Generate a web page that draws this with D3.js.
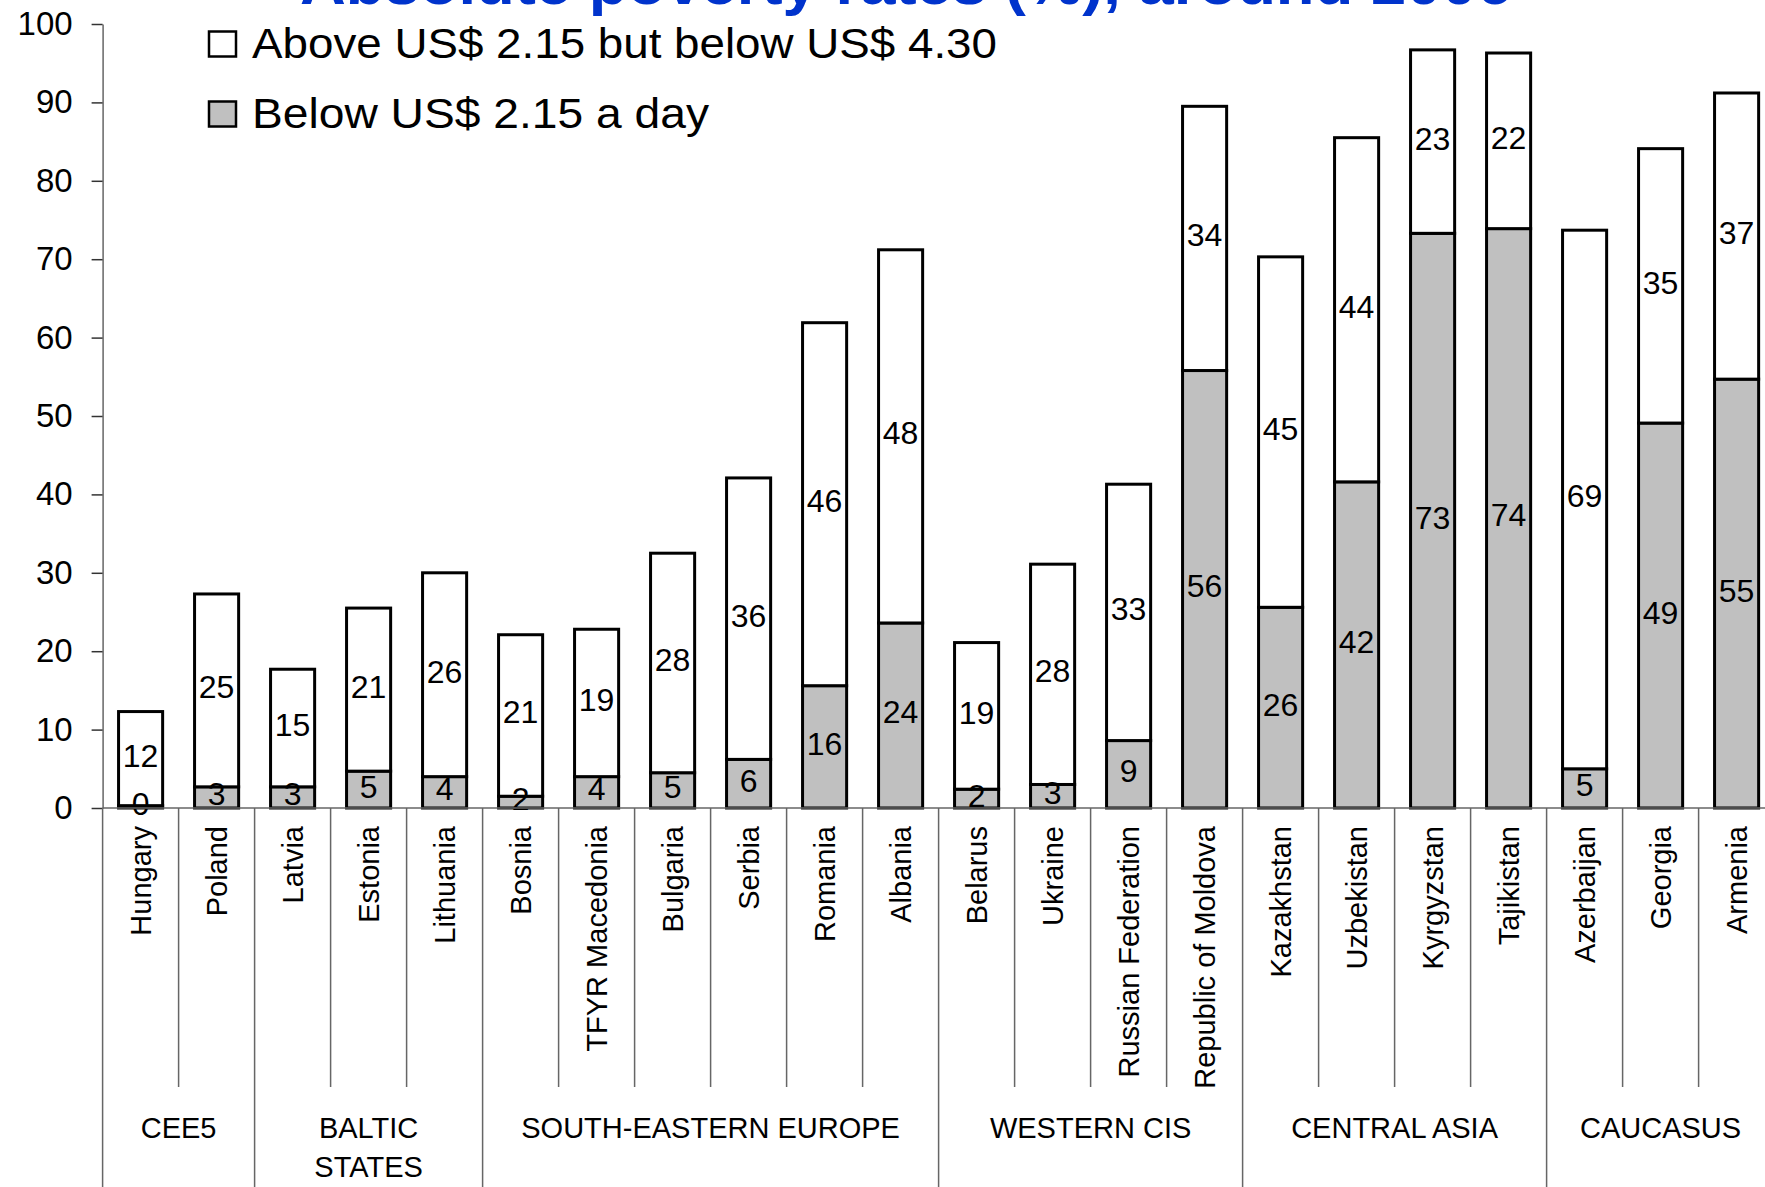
<!DOCTYPE html>
<html>
<head>
<meta charset="utf-8">
<script src="https://cdn.jsdelivr.net/npm/d3@7"></script>
<style>
  html, body { margin: 0; padding: 0; background: #fff; }
  svg { display: block; font-family: "Liberation Sans", Arial, sans-serif; }
</style>
</head>
<body>
<svg id="chart" width="1765" height="1187"></svg>
<script>
// ---- data ----
const countries = ["Hungary","Poland","Latvia","Estonia","Lithuania","Bosnia","TFYR Macedonia","Bulgaria","Serbia","Romania","Albania","Belarus","Ukraine","Russian Federation","Republic of Moldova","Kazakhstan","Uzbekistan","Kyrgyzstan","Tajikistan","Azerbaijan","Georgia","Armenia"];
const below215 = [0.3, 2.7, 2.7, 4.7, 4.0, 1.5, 4.0, 4.5, 6.2, 15.6, 23.6, 2.4, 3.0, 8.6, 55.8, 25.6, 41.6, 73.3, 73.9, 5.0, 49.1, 54.7];
const above215below430 = [12.0, 24.6, 15.0, 20.8, 26.0, 20.6, 18.8, 28.0, 35.9, 46.3, 47.6, 18.7, 28.1, 32.7, 33.7, 44.7, 43.9, 23.4, 22.4, 68.7, 35.0, 36.5];
const groups = ["CEE5","BALTIC STATES","SOUTH-EASTERN EUROPE","WESTERN CIS","CENTRAL ASIA","CAUCASUS"];
const groupSizes = [2, 3, 6, 4, 4, 3];
const groupLabelLines = [["CEE5"],["BALTIC","STATES"],["SOUTH-EASTERN EUROPE"],["WESTERN CIS"],["CENTRAL ASIA"],["CAUCASUS"]];
const yTicks = [0,10,20,30,40,50,60,70,80,90,100];
const seriesNames = ["Above US$ 2.15 but below US$ 4.30", "Below US$ 2.15 a day"];
const titleText = "Absolute poverty rates (%), around 2006";

// ---- layout ----
const svg = d3.select("#chart");
const x0 = 102.6, step = 76;
const x = d3.scaleBand().domain(countries).range([x0, x0 + step * countries.length]).paddingInner(0.42).paddingOuter(0.21);
const y = d3.scaleLinear().domain([0, 100]).range([808, 24]);
const axisColor = "#666";

// title (cut off at top, as in the original)
svg.append("text").attr("x", 300).attr("y", 4)
  .attr("font-size", 60).attr("font-weight", "bold")
  .attr("textLength", 1212).attr("lengthAdjust", "spacingAndGlyphs")
  .attr("fill", "#0033CC").text(titleText);

// y axis
const yAxis = svg.append("g").attr("transform", `translate(${x0},0)`)
  .call(d3.axisLeft(y).tickValues(yTicks).tickSize(11).tickPadding(19).tickSizeOuter(0));
yAxis.select(".domain").attr("stroke", axisColor).attr("stroke-width", 1.5);
yAxis.selectAll(".tick line").attr("stroke", "#333").attr("stroke-width", 1.5);
yAxis.selectAll(".tick text").attr("font-size", 33).attr("fill", "#000")
  .attr("font-family", "Liberation Sans, Arial, sans-serif");

// stacked data
const rows = countries.map((c, i) => ({ c, below: below215[i], above: above215below430[i] }));
const stack = d3.stack().keys(["below", "above"])(rows);
const fills = { below: "#C0C0C0", above: "#FFFFFF" };

const barG = svg.append("g");
stack.forEach(layer => {
  barG.selectAll(null).data(layer).join("rect")
    .attr("x", d => x(d.data.c))
    .attr("width", x.bandwidth())
    .attr("y", d => y(d[1]))
    .attr("height", d => y(d[0]) - y(d[1]))
    .attr("fill", fills[layer.key])
    .attr("stroke", "#000").attr("stroke-width", 3);
});

// value labels
stack.forEach(layer => {
  barG.selectAll(null).data(layer).join("text")
    .attr("x", d => x(d.data.c) + x.bandwidth() / 2)
    .attr("y", d => y((d[0] + d[1]) / 2) - 3)
    .attr("text-anchor", "middle").attr("dominant-baseline", "central")
    .attr("font-size", 32).attr("fill", "#000")
    .text(d => Math.round(d[1] - d[0]));
});

// x axis baseline
svg.append("line").attr("x1", x0).attr("x2", 1765).attr("y1", y(0)).attr("y2", y(0))
  .attr("stroke", axisColor).attr("stroke-width", 1.5);

// category separators
const groupEnds = [];
let acc = 0;
groupSizes.forEach(s => { groupEnds.push(acc); acc += s; });
const groupStartSet = new Set(groupEnds);
d3.range(countries.length).forEach(i => {
  const xx = x0 + i * step;
  const isGroup = groupStartSet.has(i);
  svg.append("line").attr("x1", xx).attr("x2", xx)
    .attr("y1", y(0)).attr("y2", isGroup ? 1187 : 1087)
    .attr("stroke", axisColor).attr("stroke-width", 1.5);
});

// country labels
svg.append("g").selectAll("text").data(countries).join("text")
  .attr("transform", d => `translate(${x(d) + x.bandwidth() / 2},826) rotate(-90)`)
  .attr("text-anchor", "end").attr("dominant-baseline", "central")
  .attr("font-size", 29).attr("fill", "#000").text(d => d);

// group labels
groupLabelLines.forEach((lines, gi) => {
  const start = groupEnds[gi], end = start + groupSizes[gi];
  const cx = x0 + (start + end) / 2 * step;
  lines.forEach((ln, li) => {
    svg.append("text").attr("x", cx).attr("y", 1138 + li * 39)
      .attr("text-anchor", "middle").attr("font-size", 29).attr("fill", "#000").text(ln);
  });
});

// legend
const legendY = [44, 114];
const legendFill = ["#FFFFFF", "#C0C0C0"];
const legendWidths = [745, 457];
seriesNames.forEach((name, i) => {
  svg.append("rect").attr("x", 209).attr("y", legendY[i] - 12.5).attr("width", 27).attr("height", 25)
    .attr("fill", legendFill[i]).attr("stroke", "#000").attr("stroke-width", 2.5);
  svg.append("text").attr("x", 252).attr("y", legendY[i] + 14)
    .attr("font-size", 43).attr("fill", "#000")
    .attr("textLength", legendWidths[i]).attr("lengthAdjust", "spacingAndGlyphs")
    .text(name);
});
</script>
</body>
</html>
